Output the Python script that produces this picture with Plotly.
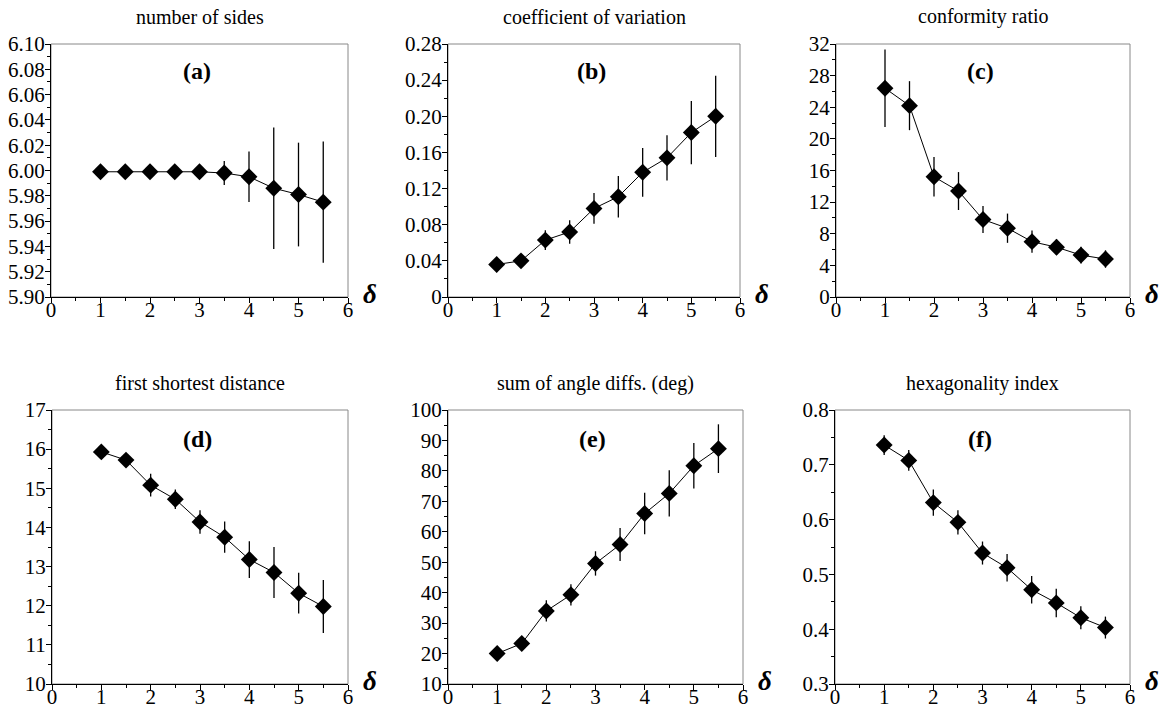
import plotly.graph_objects as go

delta = [1.0, 1.5, 2.0, 2.5, 3.0, 3.5, 4.0, 4.5, 5.0, 5.5]
x_ticks = [0, 1, 2, 3, 4, 5, 6]

sides = [5.999, 5.999, 5.999, 5.999, 5.999, 5.998, 5.995, 5.986, 5.981, 5.975]
sides_err = [0.001, 0.001, 0.001, 0.001, 0.001, 0.0095, 0.020, 0.048, 0.041, 0.048]

cv = [0.036, 0.040, 0.063, 0.072, 0.098, 0.111, 0.138, 0.154, 0.182, 0.200]
cv_err = [0.006, 0.004, 0.011, 0.013, 0.017, 0.023, 0.027, 0.025, 0.035, 0.045]

conf = [26.4, 24.2, 15.2, 13.4, 9.8, 8.7, 7.0, 6.3, 5.3, 4.8]
conf_err = [4.9, 3.1, 2.5, 2.4, 1.7, 1.85, 1.4, 1.0, 1.05, 1.1]

fsd = [15.93, 15.72, 15.08, 14.72, 14.14, 13.75, 13.18, 12.85, 12.32, 11.98]
fsd_err = [0.12, 0.08, 0.29, 0.25, 0.30, 0.40, 0.47, 0.65, 0.52, 0.68]

angle = [20.0, 23.3, 34.0, 39.3, 49.6, 55.8, 66.0, 72.6, 81.7, 87.3]
angle_err = [1.5, 1.5, 3.5, 3.5, 4.0, 5.4, 6.8, 7.6, 7.5, 8.0]

hexi = [0.736, 0.708, 0.631, 0.595, 0.539, 0.512, 0.472, 0.448, 0.421, 0.403]
hexi_err = [0.018, 0.019, 0.024, 0.022, 0.021, 0.025, 0.025, 0.026, 0.021, 0.020]

titles = ["number of sides", "coefficient of variation", "conformity ratio",
          "first shortest distance", "sum of angle diffs. (deg)", "hexagonality index"]
labels = ["(a)", "(b)", "(c)", "(d)", "(e)", "(f)"]

y_ticks = [
    [5.90, 5.92, 5.94, 5.96, 5.98, 6.00, 6.02, 6.04, 6.06, 6.08, 6.10],
    [0, 0.04, 0.08, 0.12, 0.16, 0.20, 0.24, 0.28],
    [0, 4, 8, 12, 16, 20, 24, 28, 32],
    [10, 11, 12, 13, 14, 15, 16, 17],
    [10, 20, 30, 40, 50, 60, 70, 80, 90, 100],
    [0.3, 0.4, 0.5, 0.6, 0.7, 0.8],
]
y_ticktext = [
    ["5.90", "5.92", "5.94", "5.96", "5.98", "6.00", "6.02", "6.04", "6.06", "6.08", "6.10"],
    ["0", "0.04", "0.08", "0.12", "0.16", "0.20", "0.24", "0.28"],
    ["0", "4", "8", "12", "16", "20", "24", "28", "32"],
    ["10", "11", "12", "13", "14", "15", "16", "17"],
    ["10", "20", "30", "40", "50", "60", "70", "80", "90", "100"],
    ["0.3", "0.4", "0.5", "0.6", "0.7", "0.8"],
]
y_minor = [0.01, 0.02, 2, 0.5, 5, 0.05]

series = [(sides, sides_err), (cv, cv_err), (conf, conf_err),
          (fsd, fsd_err), (angle, angle_err), (hexi, hexi_err)]

W, H = 1164, 709
px_x = [(51, 348), (448, 740), (836, 1130), (52, 348), (448, 743), (835, 1130)]
px_y = [(44, 297), (44, 297), (44, 297), (410, 684), (410, 684), (410, 684)]

FONT = "Liberation Serif, Times New Roman, DejaVu Serif, serif"
fig = go.Figure()
shapes = []
annotations = []

for i in range(6):
    n = i + 1
    xa = "x" if n == 1 else f"x{n}"
    ya = "y" if n == 1 else f"y{n}"
    vals, errs = series[i]
    fig.add_trace(go.Scatter(
        x=delta, y=vals, xaxis=xa, yaxis=ya, mode="lines+markers",
        line=dict(color="black", width=1),
        marker=dict(symbol="diamond", size=13, color="black"),
        error_y=dict(type="data", array=errs, visible=True, width=0,
                     thickness=1.3, color="black"),
        showlegend=False, cliponaxis=False,
    ))
    x0, x1 = px_x[i]
    y0, y1 = px_y[i]
    xdom = [x0 / W, x1 / W]
    ydom = [1 - y1 / H, 1 - y0 / H]
    yt = y_ticks[i]
    common = dict(showgrid=False, zeroline=False, showline=True, linecolor="black",
                  linewidth=1, ticks="outside", ticklen=5, tickwidth=1, tickcolor="black",
                  automargin=False,
                  tickfont=dict(family=FONT, size=21, color="black"))
    fig.layout[f"xaxis{'' if n == 1 else n}"] = dict(
        domain=xdom, anchor=ya, range=[0, 6], tickvals=x_ticks,
        ticktext=[str(t) for t in x_ticks], ticklabelstandoff=-11,
        minor=dict(dtick=0.5, tick0=0, ticks="outside", ticklen=3, tickcolor="black"),
        **common)
    fig.layout[f"yaxis{'' if n == 1 else n}"] = dict(
        domain=ydom, anchor=xa, range=[yt[0], yt[-1]], tickvals=yt,
        ticktext=y_ticktext[i], ticklabelstandoff=-4,
        minor=dict(dtick=y_minor[i], tick0=yt[0], ticks="outside", ticklen=3,
                   tickcolor="black"),
        **common)
    shapes.append(dict(type="rect", xref=f"{xa} domain", yref=f"{ya} domain",
                       x0=0, x1=1, y0=0, y1=1, line=dict(color="#888888", width=1),
                       layer="below"))
    annotations.append(dict(text=titles[i], xref="paper", yref="paper",
                            x=(xdom[0] + xdom[1]) / 2, y=1 - (y0 - 27) / H,
                            xanchor="center", yanchor="middle", showarrow=False,
                            font=dict(family=FONT, size=20, color="black")))
    annotations.append(dict(text=f"<b>{labels[i]}</b>", xref=f"{xa} domain",
                            yref=f"{ya} domain", x=0.49, y=0.895,
                            xanchor="center", yanchor="middle", showarrow=False,
                            font=dict(family=FONT, size=24, color="black")))
    annotations.append(dict(text="<b><i>δ</i></b>", xref="paper", yref="paper",
                            x=(x1 + 22) / W, y=1 - (y1 - 3) / H,
                            xanchor="center", yanchor="middle",
                            showarrow=False,
                            font=dict(family=FONT, size=27, color="black")))

fig.update_layout(width=W, height=H, margin=dict(l=0, r=0, t=0, b=0),
                  template="none",
                  paper_bgcolor="white", plot_bgcolor="white",
                  shapes=shapes, annotations=annotations)

fig.write_html("out.html", config={"displayModeBar": False},
               post_script="document.body.style.margin='0px';")
